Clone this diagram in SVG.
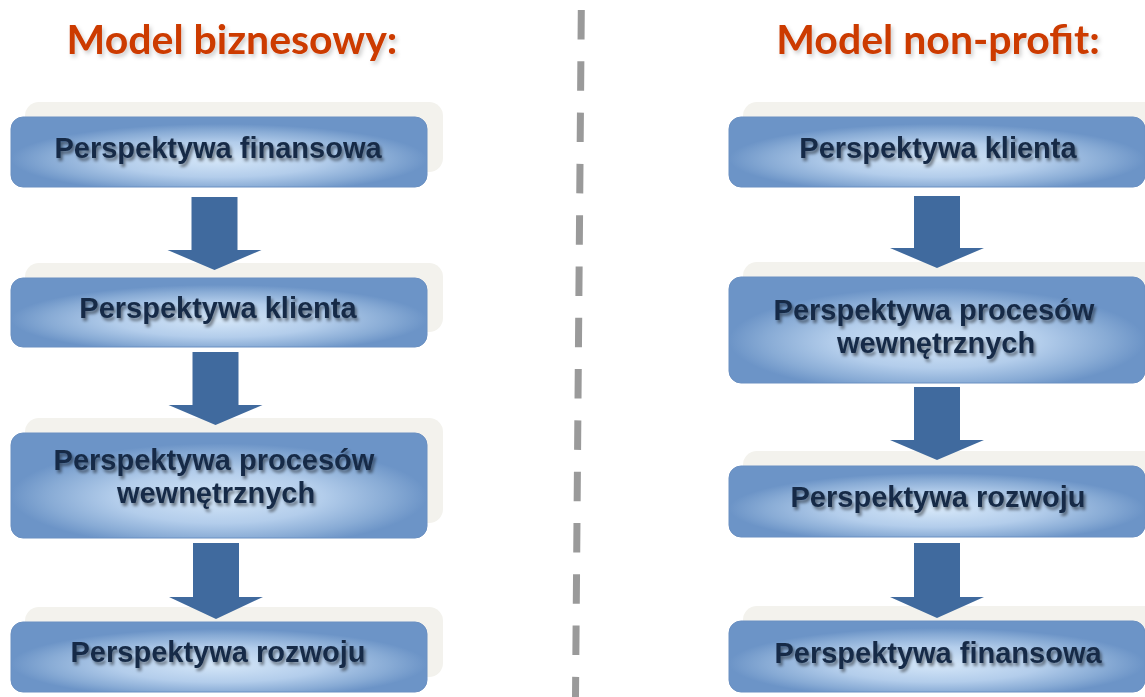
<svg xmlns="http://www.w3.org/2000/svg" width="1145" height="697" viewBox="0 0 1145 697">
<defs>
<radialGradient id="boxg" cx="0.5" cy="0.6" r="0.5" fx="0.5" fy="0.62">
<stop offset="0" stop-color="#d4e6f8"/>
<stop offset="0.5" stop-color="#b3cdeb"/>
<stop offset="0.82" stop-color="#88abd5"/>
<stop offset="1" stop-color="#6c94c7"/>
</radialGradient>
<filter id="tsh" x="-10%" y="-30%" width="120%" height="160%">
<feDropShadow dx="2" dy="3" stdDeviation="1.8" flood-color="#000" flood-opacity="0.45"/>
</filter>
<filter id="ttsh" x="-10%" y="-30%" width="120%" height="160%">
<feDropShadow dx="2" dy="3" stdDeviation="2" flood-color="#000" flood-opacity="0.2"/>
</filter>
<filter id="soft" x="-10%" y="-10%" width="120%" height="120%">
<feGaussianBlur stdDeviation="0.7"/>
</filter>
</defs>
<style>
.bg{fill:#f3f2ed}
.box{fill:url(#boxg);stroke:#6a90c2;stroke-width:1}
.lbl{font-family:"Liberation Sans",Arial,sans-serif;font-weight:bold;font-size:29px;fill:#172b47;text-anchor:middle}
.title{font-family:Lato,"Liberation Sans",sans-serif;font-weight:bold;font-size:41px;fill:#cc3a06;text-anchor:middle}
.arr{fill:#416b9e}
</style>
<rect width="1145" height="697" fill="#ffffff"/>

<g id="titles">
<text class="title" x="232" y="54" filter="url(#ttsh)">Model biznesowy:</text>
<text class="title" x="938" y="54" filter="url(#ttsh)">Model non-profit:</text>
</g>

<g id="divider">
<line x1="581.3" y1="10" x2="575.5" y2="697" stroke="#9a9a9a" stroke-width="7" stroke-dasharray="29.5 21.8"/>
</g>

<g id="left-finansowa">
<rect class="bg" x="25" y="102" width="418" height="70" rx="14"/>
<rect class="box" x="11" y="117" width="416" height="70" rx="12"/>
<text class="lbl" x="218" y="158" filter="url(#tsh)">Perspektywa finansowa</text>
</g>
<g id="left-klienta">
<rect class="bg" x="25" y="263" width="418" height="69" rx="14"/>
<rect class="box" x="11" y="278" width="416" height="69" rx="12"/>
<text class="lbl" x="218" y="318" filter="url(#tsh)">Perspektywa klienta</text>
</g>
<g id="left-procesow">
<rect class="bg" x="25" y="418" width="418" height="105" rx="14"/>
<rect class="box" x="11" y="433" width="416" height="105" rx="12"/>
<text class="lbl" x="214" y="470" filter="url(#tsh)">Perspektywa procesów</text>
<text class="lbl" x="216" y="503" filter="url(#tsh)">wewnętrznych</text>
</g>
<g id="left-rozwoju">
<rect class="bg" x="25" y="607" width="418" height="70" rx="14"/>
<rect class="box" x="11" y="622" width="416" height="70" rx="12"/>
<text class="lbl" x="218" y="662" filter="url(#tsh)">Perspektywa rozwoju</text>
</g>

<g id="right-klienta">
<rect class="bg" x="743" y="102" width="418" height="70" rx="14"/>
<rect class="box" x="729" y="117" width="416" height="70" rx="12"/>
<text class="lbl" x="938" y="158" filter="url(#tsh)">Perspektywa klienta</text>
</g>
<g id="right-procesow">
<rect class="bg" x="743" y="262" width="418" height="106" rx="14"/>
<rect class="box" x="729" y="277" width="416" height="106" rx="12"/>
<text class="lbl" x="934" y="320" filter="url(#tsh)">Perspektywa procesów</text>
<text class="lbl" x="936" y="353" filter="url(#tsh)">wewnętrznych</text>
</g>
<g id="right-rozwoju">
<rect class="bg" x="743" y="451" width="418" height="71" rx="14"/>
<rect class="box" x="729" y="466" width="416" height="71" rx="12"/>
<text class="lbl" x="938" y="507" filter="url(#tsh)">Perspektywa rozwoju</text>
</g>
<g id="right-finansowa">
<rect class="bg" x="743" y="606" width="418" height="71" rx="14"/>
<rect class="box" x="729" y="621" width="416" height="71" rx="12"/>
<text class="lbl" x="938" y="663" filter="url(#tsh)">Perspektywa finansowa</text>
</g>

<g id="connectors" filter="url(#soft)">
<path class="arr" d="M191.5 197H237.5V250H261.5L214.5 270L167.5 250H191.5Z"/>
<path class="arr" d="M192.5 352H238.5V405H262.5L215.5 425L168.5 405H192.5Z"/>
<path class="arr" d="M193 543H239V597H263L216 619L169 597H193Z"/>
<path class="arr" d="M914 196H960V248H984L937 268L890 248H914Z"/>
<path class="arr" d="M914 387H960V440H984L937 460L890 440H914Z"/>
<path class="arr" d="M914 543H960V597H984L937 618L890 597H914Z"/>
</g>
</svg>
